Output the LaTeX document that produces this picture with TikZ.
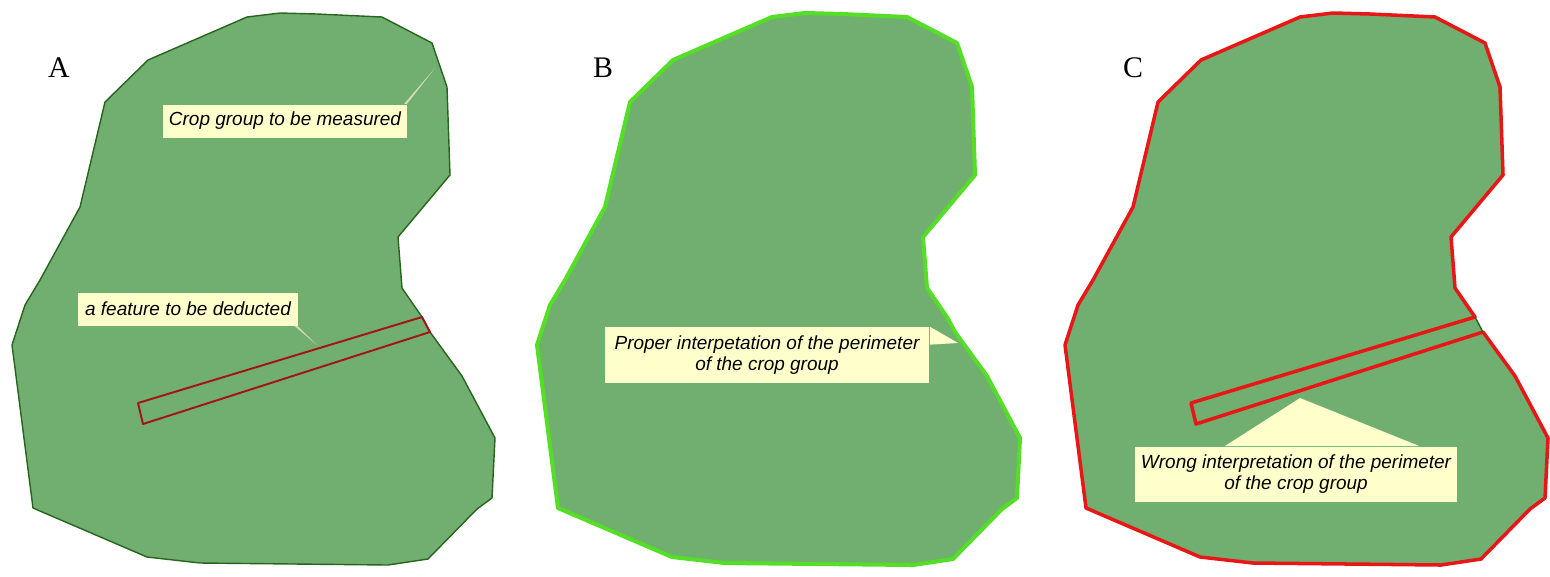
\documentclass[tikz,border=0pt]{standalone}
\usepackage{fontspec}
\setmainfont{Liberation Serif}
\setsansfont{Liberation Sans}
\usepackage{tikz}
\usepackage{xcolor}

\definecolor{verde}{RGB}{112,175,112}
\definecolor{bordeA}{RGB}{40,100,30}
\definecolor{franjaA}{RGB}{165,20,20}
\definecolor{bordeB}{RGB}{85,222,40}
\definecolor{bordeC}{RGB}{232,22,22}
\definecolor{amarillo}{RGB}{255,255,204}

% contorno de la parcela, de una esquina de la franja a la otra
\newcommand{\campo}{(430,332) -- (462,376) -- (495,438) -- (492,498) -- (477,509) -- (428,559) -- (388,565) -- (200,563) -- (147,557) -- (33,508) -- (12,345) -- (25,305) -- (40,280) -- (80,207) -- (105,102) -- (148,60) -- (247,17) -- (280,13) -- (317,14) -- (382,17) -- (432,43) -- (447,87) -- (450,175) -- (398,237) -- (402,288) -- (422,317)}
\newcommand{\franja}{(422,317) -- (138,403) -- (143,424) -- (430,332)}

\begin{document}
\begin{tikzpicture} %Parcelas A, B y C
      [
      x=0.02cm, y=-0.02cm, line join=round,
      nota/.style={fill=amarillo, inner sep=0pt, align=center, font=\sffamily\itshape\fontsize{10.8}{11.6}\selectfont},
      letra/.style={font=\fontsize{17}{20}\selectfont}
      ]
      \useasboundingbox (0,0) rectangle (1550,576);
      % A
      \fill[verde] \campo -- cycle;
      \draw[bordeA, line width=0.8pt] \campo -- cycle;
      \draw[franjaA, line width=1.1pt] \franja -- cycle;
      \node[letra] (A) at (59,68) {A};
      \coordinate (puntaA1) at (435,68);
      \coordinate (puntaA2) at (317,345);
      \node[nota, minimum width=4.9cm, minimum height=0.66cm] (medir) at (285,121) {Crop group to be measured};
      \node[nota, minimum width=4.4cm, minimum height=0.66cm] (deducir) at (188,309) {a feature to be deducted};
      \fill[amarillo!70!gray] ([xshift=-0.08cm]medir.north east) -- ([xshift=-0.02cm]medir.north east) -- (puntaA1) -- cycle;
      \fill[amarillo!70!gray] ([xshift=-0.08cm]deducir.south east) -- ([xshift=-0.02cm]deducir.south east) -- (puntaA2) -- cycle;
      % B
      \begin{scope}[shift={(525,0)}]
        \fill[verde] \campo -- cycle;
        \draw[bordeB, line width=2.3pt] \campo -- cycle;
        \node[letra] (B) at (78,68) {B};
        \coordinate (puntaB) at (433,343);
        \node[nota, minimum width=6.5cm, minimum height=1.12cm] (bien) at (242,355) {Proper interpetation of the perimeter\\of the crop group};
        \fill[amarillo] (bien.north east) -- (puntaB) -- ([yshift=-0.36cm]bien.north east) -- cycle;
      \end{scope}
      % C
      \begin{scope}[shift={(1053,0)}]
        \fill[verde] \campo -- cycle;
        \node[letra] (C) at (80,68) {C};
        \coordinate (puntaC) at (247,398);
        \node[nota, minimum width=6.44cm, minimum height=1.1cm] (mal) at (243,474) {Wrong interpretation of the perimeter\\of the crop group};
        \fill[amarillo] ([xshift=1.8cm]mal.north west) -- (puntaC) -- ([xshift=5.7cm]mal.north west) -- cycle;
        \draw[bordeC, line width=2pt] \campo -- (138,403) -- (143,424) -- cycle;
        \draw[bordeA, line width=0.8pt] (422,317) -- (430,332);
      \end{scope}
\end{tikzpicture}
\end{document}
